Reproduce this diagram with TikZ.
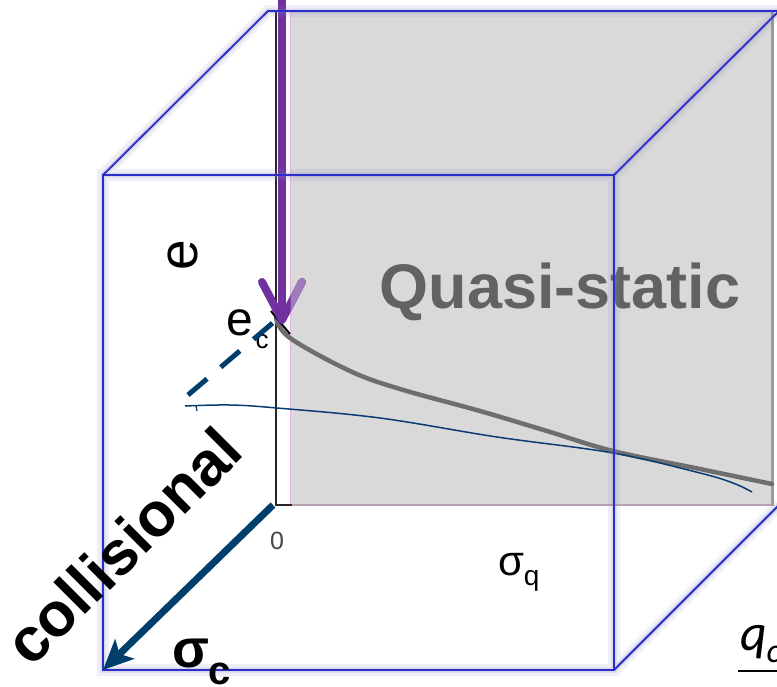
\documentclass[tikz,border=0pt]{standalone}
\usepackage{fontspec}
\setmainfont{Liberation Sans}
\newfontfamily\carlfont{Carlito}
\usetikzlibrary{arrows.meta}

\definecolor{cubeblue}{RGB}{45,45,200}
\definecolor{cubeshadow}{RGB}{130,130,195}
\definecolor{graphgray}{RGB}{217,217,217}
\definecolor{purplearr}{RGB}{112,48,160}
\definecolor{purplelight}{RGB}{158,124,188}
\definecolor{navyarr}{RGB}{0,62,108}
\definecolor{thinblue}{RGB}{10,60,115}
\definecolor{quasigray}{RGB}{98,98,98}
\definecolor{curvegray}{RGB}{110,110,110}
\definecolor{rightgray}{RGB}{155,155,155}
\definecolor{bottomborder}{RGB}{185,160,178}
\definecolor{pinkborder}{RGB}{236,178,222}
\definecolor{zerogray}{RGB}{70,70,70}

\newcommand{\CubeEdgePaths}{(F1) -- (F2) -- (F3) -- (F4) -- cycle
  (F1) -- (B1) -- (B2) (F2) -- (B2) (F3) -- (B3)}

\begin{document}
\begin{tikzpicture}[x=1pt,y=-1pt,
  edge/.style={draw=cubeblue, line width=1.8pt, line join=miter},
  edgeshadowwide/.style={draw=cubeshadow, line width=12pt, opacity=0.12},
  edgeshadow/.style={draw=cubeshadow, line width=5pt, opacity=0.22},
  lbl/.style={inner sep=0pt, outer sep=0pt},
  purplestroke/.style={draw=purplearr, line width=8pt},
  navystroke/.style={draw=navyarr, line width=7pt},
  dashline/.style={draw=navyarr, line width=5pt, dash pattern=on 25pt off 18pt}
]
\useasboundingbox (0,0) rectangle (777,686);
\fill[white] (0,0) rectangle (777,686);
\clip (0,0) rectangle (777,686);

% cube corners
\coordinate (F1) at (103,175);
\coordinate (F2) at (614,175);
\coordinate (F3) at (614,670);
\coordinate (F4) at (103,670);
\coordinate (B1) at (268,11);
\coordinate (B2) at (779,11);
\coordinate (B3) at (779,505);

% graph area
\coordinate (G1) at (290,11);
\coordinate (G2) at (772,505);
\fill[graphgray] (G1) rectangle (G2);
\draw[pinkborder, line width=1pt] (290,11) -- (290,505);
\draw[bottomborder, line width=1.6pt] (290,505) -- (772,505);
\draw[rightgray, line width=3pt] (772,11) -- (772,506);

% axes
\coordinate (axT) at (276,11);
\coordinate (axO) at (276,505);
\coordinate (axE) at (292,505);
\draw[black!85, line width=2pt] (axT) -- (axO) -- (axE);

% compression curve
\draw[curvegray, line width=4.5pt, line cap=round] plot[smooth, tension=0.6] coordinates
  {(276,318) (290,338) (350,371) (400,389) (480,411) (547,431) (613,451) (700,469) (772,484)};
\draw[black, line width=2pt] plot[smooth] coordinates {(271,311) (279,321) (290,334)};

% thin blue curve
\draw[thinblue, line width=1.5pt] plot[smooth, tension=0.6] coordinates
  {(185,406) (230,405) (277,408) (380,418) (497,437) (613,453) (700,473) (733,483) (752,492)};
\draw[thinblue, line width=1.2pt] (196,406) -- (197,411);

% labels of the graph
\node[lbl, rotate=90, font=\fontsize{55}{60}\selectfont] (elab) at (183,255) {e};
\node[lbl, anchor=base, font=\fontsize{48}{52}\selectfont] (ecl) at (240,335) {e};
\node[lbl, anchor=base, font=\fontsize{26}{28}\selectfont] (ecsub) at (262,348) {c};
\node[lbl, text=zerogray, font=\fontsize{25}{28}\selectfont] (zero) at (277,541) {0};
\node[lbl, anchor=base west] (sigq) at (498,575)
  {\fontsize{42}{46}\selectfont σ\raisebox{-10pt}{\fontsize{28}{30}\selectfont q}};

% Quasi-static
\node[lbl, anchor=base, text=quasigray, font=\fontsize{63}{70}\selectfont\bfseries] (quasi) at (560,308) {Quasi-static};

% purple arrow
\coordinate (ptop) at (282,-2);
\coordinate (pshaft) at (282,314);
\coordinate (ptip) at (282,320);
\draw[purplestroke] (ptop) -- (pshaft);
\draw[purplestroke, line cap=round, line join=round] (262,282) -- (ptip) -- (302,282);
\begin{scope}
  \clip (290.5,250) rectangle (330,330);
  \draw[draw=purplelight, line width=8pt, line cap=round] (ptip) -- (302,282);
\end{scope}

% dashed line
\coordinate (dS) at (188,395);
\coordinate (dE) at (275,321);
\draw[dashline] (dS) -- (dE);

% cube edges with soft shadow
\begin{scope}[shift={(3,7)}]
  \draw[edgeshadowwide] \CubeEdgePaths;
  \draw[edgeshadow] \CubeEdgePaths;
\end{scope}
\draw[edge] \CubeEdgePaths;

% collisional arrow
\coordinate (aS) at (273,505);
\draw[navystroke, -{Stealth[length=30pt, width=27pt, inset=7pt]}] (aS) -- (F4);

% texts on top
\node[lbl, rotate=45, font=\fontsize{62}{66}\selectfont\bfseries] (coll) at (123,546) {collisional};
\node[lbl, anchor=base west] (sigc) at (172,667)
  {\fontsize{54}{58}\selectfont\bfseries σ\raisebox{-17pt}{\fontsize{40}{44}\selectfont\bfseries c}};
\node[lbl, anchor=base west] (qlab) at (740,650)
  {\carlfont\itshape\fontsize{52}{56}\selectfont q\raisebox{-12pt}{\fontsize{34}{36}\selectfont c}};
\coordinate (fracL) at (738,671);
\coordinate (fracR) at (780,671);
\draw[black, line width=2pt] (fracL) -- (fracR);
\end{tikzpicture}
\end{document}
